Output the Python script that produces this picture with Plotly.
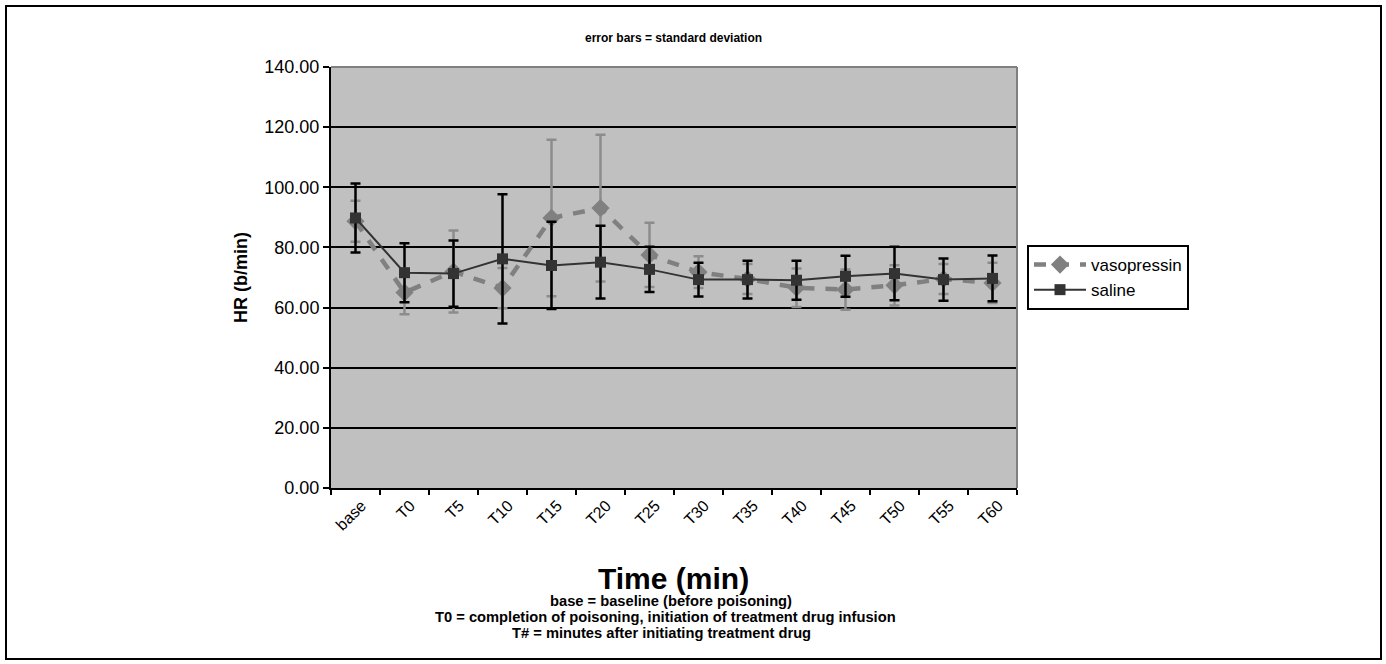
import plotly.graph_objects as go

# ---- data ----
categories = ["base", "T0", "T5", "T10", "T15", "T20", "T25", "T30",
              "T35", "T40", "T45", "T50", "T55", "T60"]
vasopressin = [88.7, 65.0, 72.0, 66.5, 89.8, 93.1, 77.5, 71.8, 69.5, 66.6, 66.0, 67.4, 69.5, 68.2]
vasopressin_sd = [6.8, 7.2, 13.6, 6.7, 26.0, 24.4, 10.7, 5.3, 5.0, 6.4, 6.7, 6.7, 5.0, 6.7]
saline = [89.8, 71.6, 71.3, 76.2, 74.0, 75.1, 72.7, 69.3, 69.3, 69.1, 70.4, 71.3, 69.3, 69.7]
saline_sd = [11.5, 9.8, 11.0, 21.5, 14.5, 12.1, 7.5, 5.6, 6.3, 6.5, 6.8, 8.9, 7.0, 7.6]
y_ticks = [0, 20, 40, 60, 80, 100, 120, 140]

FONT = "Liberation Sans, Arial, sans-serif"
W, H = 1386, 664
L, R, T, B = 331, 1017, 67, 488  # plot area in pixels

def px(x):
    return (x - L) / (R - L)

def py(y):
    return (B - y) / (B - T)

fig = go.Figure()

fig.add_trace(go.Scatter(
    x=categories, y=vasopressin, name="vasopressin", mode="lines+markers",
    line=dict(color="#808080", width=4.5, dash="12px,11px"),
    marker=dict(symbol="diamond", size=14, color="#808080"),
    error_y=dict(type="data", array=vasopressin_sd, visible=True,
                 color="#8c8c8c", thickness=2.5, width=5),
))
fig.add_trace(go.Scatter(
    x=categories, y=saline, name="saline", mode="lines+markers",
    line=dict(color="#333333", width=2),
    marker=dict(symbol="square", size=11, color="#333333"),
    error_y=dict(type="data", array=saline_sd, visible=True,
                 color="#000000", thickness=2.5, width=5),
))

def note(text, x, y, size):
    return dict(text=text, xref="paper", yref="paper", x=px(x), y=py(y),
                xanchor="center", yanchor="middle", showarrow=False,
                font=dict(size=size, family=FONT, color="black"))

fig.update_layout(
    width=W, height=H,
    margin=dict(l=L, r=W - R, t=T, b=H - B),
    paper_bgcolor="white",
    plot_bgcolor="#C0C0C0",
    font=dict(family=FONT, color="black"),
    showlegend=True,
    legend=dict(
        x=px(1027), y=0.5, xanchor="left", yanchor="middle",
        bgcolor="white", bordercolor="black", borderwidth=2,
        font=dict(size=17, family=FONT), itemwidth=52, tracegroupgap=0,
    ),
    xaxis=dict(
        type="category", tickangle=-45, tickson="boundaries",
        ticks="outside", ticklen=5, tickcolor="black", tickwidth=2,
        showline=True, linecolor="black", linewidth=2,
        showgrid=False, tickfont=dict(size=16, family=FONT),
        ticklabelshift=6,
        range=[-0.5, len(categories) - 0.5],
    ),
    yaxis=dict(
        range=[0, 140], tickvals=y_ticks, tickformat=".2f",
        ticks="outside", ticklen=6, tickcolor="black", tickwidth=2,
        showline=True, linecolor="black", linewidth=2,
        showgrid=True, gridcolor="black", gridwidth=2,
        zeroline=False, tickfont=dict(size=18, family=FONT),
        title=dict(text="<b>HR (b/min)</b>", font=dict(size=18, family=FONT), standoff=12),
    ),
    shapes=[
        dict(type="line", xref="paper", yref="paper", x0=0, x1=1, y0=1, y1=1,
             line=dict(color="#808080", width=2)),
        dict(type="line", xref="paper", yref="paper", x0=1, x1=1, y0=0, y1=1,
             line=dict(color="#808080", width=2)),
        dict(type="rect", xref="paper", yref="paper",
             x0=px(6), x1=px(1381), y0=py(659), y1=py(6),
             line=dict(color="black", width=2), fillcolor="rgba(0,0,0,0)"),
    ],
    annotations=[
        note("<b>error bars = standard deviation</b>", 673, 38, 12),
        note("<b>Time (min)</b>", 673, 578, 30),
        note("<b>base = baseline (before poisoning)</b>", 671, 601, 14.7),
        note("<b>T0 = completion of poisoning, initiation of treatment drug infusion</b>", 665, 617, 14.7),
        note("<b>T# = minutes after initiating treatment drug</b>", 661, 633, 14.7),
    ],
)

fig.write_html("out.html")
